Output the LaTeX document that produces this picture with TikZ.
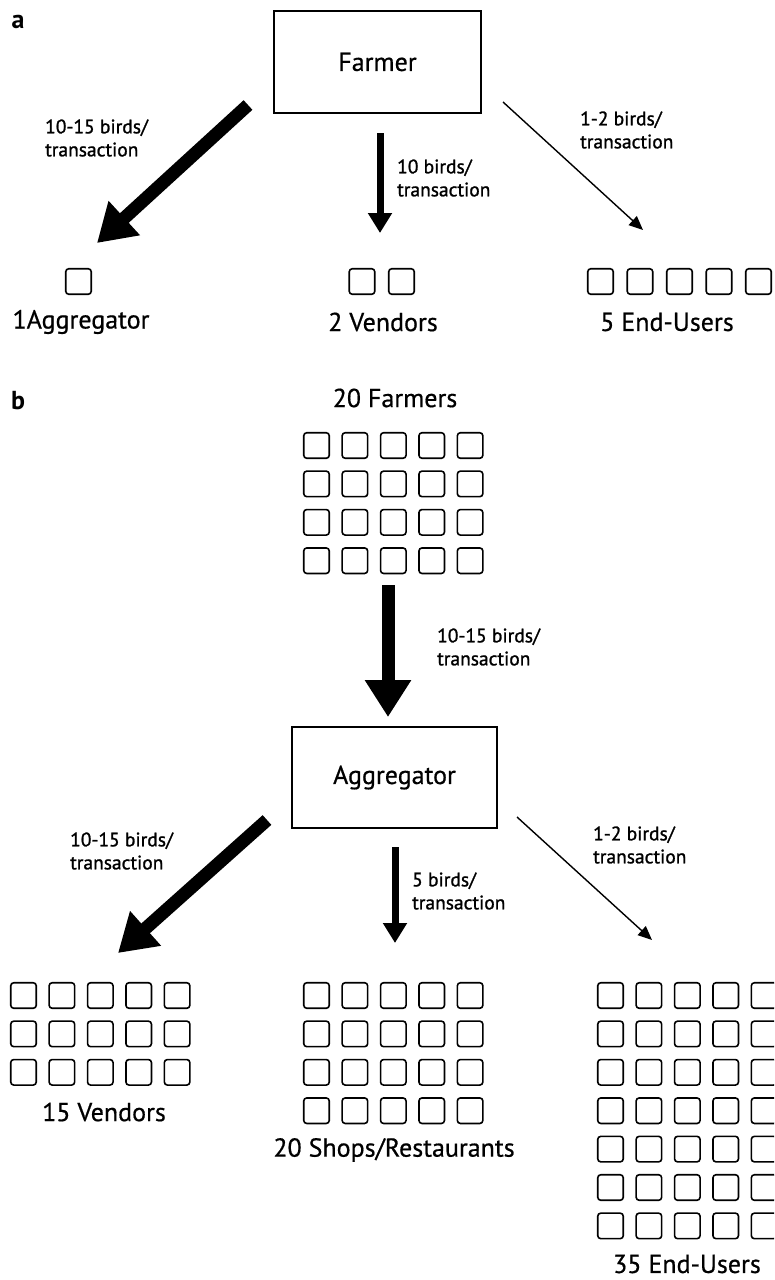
\documentclass[tikz,border=0pt]{standalone}
\usepackage{fontspec}
\setmainfont{PT Sans}
\newfontfamily\ratefont{PT Sans}[FakeBold=1.2]
\newfontfamily\groupfont{PT Sans}[FakeBold=0.6]
\usetikzlibrary{arrows.meta}
\begin{document}
\begin{tikzpicture}[x=1pt,y=-1pt,
    actor/.style={draw,line width=1.5pt,minimum width=207pt,minimum height=102pt,inner sep=0pt,font=\groupfont\fontsize{26}{30}\selectfont},
    bird/.style={draw,line width=1.6pt,rounded corners=3pt,minimum size=25.5pt,inner sep=0pt},
    rate/.style={anchor=west,align=left,inner sep=0pt,font=\ratefont\fontsize{19.5}{23}\selectfont},
    group/.style={inner sep=0pt,font=\groupfont\fontsize{26}{30}\selectfont},
    tag/.style={inner sep=0pt,font=\fontsize{26}{30}\selectfont\bfseries},
    bigflow/.style={line width=13pt,-{Triangle[length=37pt,width=44pt]}},
    midflow/.style={line width=7pt,-{Triangle[length=20pt,width=23pt]}},
    smallflow/.style={line width=1.4pt,-{Triangle[length=14pt,width=12pt]}}]
    \useasboundingbox (0,0) rectangle (774,1280);
    \clip (0,0) rectangle (774,1280);
    % panel a
    \node[tag] (pa) at (18,22) {a};
    \node[actor] (farmer) at (377.5,62) {Farmer};
    \node[bird] (ag-1) at (78.5,281.5) {};
    \foreach \c in {1,2}
        \node[bird] (ve-\c) at ({362+(\c-1)*39.5},281.5) {};
    \foreach \c in {1,...,5}
        \node[bird] (eu-\c) at ({600.5+(\c-1)*39.5},281.5) {};
    \node[group] (aggs) at (81,322) {1Aggregator};
    \node[group] (vends) at (383,322) {2 Vendors};
    \node[group] (users) at (667,322) {5 End-Users};
    \coordinate (a-s1) at (248,105); \coordinate (a-t1) at (97,243);
    \coordinate (a-s2) at (380,133); \coordinate (a-t2) at (380,233);
    \coordinate (a-s3) at (503,102); \coordinate (a-t3) at (643,230);
    \draw[bigflow] (a-s1) -- (a-t1);
    \draw[midflow] (a-s2) -- (a-t2);
    \draw[smallflow] (a-s3) -- (a-t3);
    \node[rate] (ra1) at (45,138) {10-15 birds/\\transaction};
    \node[rate] (ra2) at (397,178) {10 birds/\\transaction};
    \node[rate] (ra3) at (580,130) {1-2 birds/\\transaction};
    % panel b
    \node[tag] (pb) at (18,401) {b};
    \node[group] (farmers) at (395,398) {20 Farmers};
    \foreach \r in {1,...,4}
        \foreach \c in {1,...,5}
            \node[bird] (fa-\r-\c) at ({316.5+(\c-1)*38.4},{445.5+(\r-1)*38.4}) {};
    \node[actor,minimum width=205pt,minimum height=101pt] (aggregator) at (394.5,777.5) {Aggregator};
    \coordinate (b-s0) at (388,585); \coordinate (b-t0) at (388,717);
    \draw[bigflow] (b-s0) -- (b-t0);
    \node[rate] (rb0) at (437,647) {10-15 birds/\\transaction};
    % outlets
    \foreach \r in {1,...,3}
        \foreach \c in {1,...,5}
            \node[bird] (vd-\r-\c) at ({23.5+(\c-1)*38.4},{995.5+(\r-1)*38.4}) {};
    \foreach \r in {1,...,4}
        \foreach \c in {1,...,5}
            \node[bird] (sh-\r-\c) at ({316.5+(\c-1)*38.4},{995.5+(\r-1)*38.4}) {};
    \foreach \r in {1,...,7}
        \foreach \c in {1,...,5}
            \node[bird] (us-\r-\c) at ({610.5+(\c-1)*38.4},{995.5+(\r-1)*38.4}) {};
    \node[group] (vendors) at (104,1112) {15 Vendors};
    \node[group] (shops) at (394,1150) {20 Shops/Restaurants};
    \node[group] (endusers) at (687,1264) {35 End-Users};
    \coordinate (b-s1) at (267,820); \coordinate (b-t1) at (118,953);
    \coordinate (b-s2) at (395,847); \coordinate (b-t2) at (395,943);
    \coordinate (b-s3) at (517,817); \coordinate (b-t3) at (652,940);
    \draw[bigflow] (b-s1) -- (b-t1);
    \draw[midflow] (b-s2) -- (b-t2);
    \draw[smallflow] (b-s3) -- (b-t3);
    \node[rate] (rb1) at (70,851) {10-15 birds/\\transaction};
    \node[rate] (rb2) at (412,891) {5 birds/\\transaction};
    \node[rate] (rb3) at (593,845) {1-2 birds/\\transaction};
\end{tikzpicture}
\end{document}
